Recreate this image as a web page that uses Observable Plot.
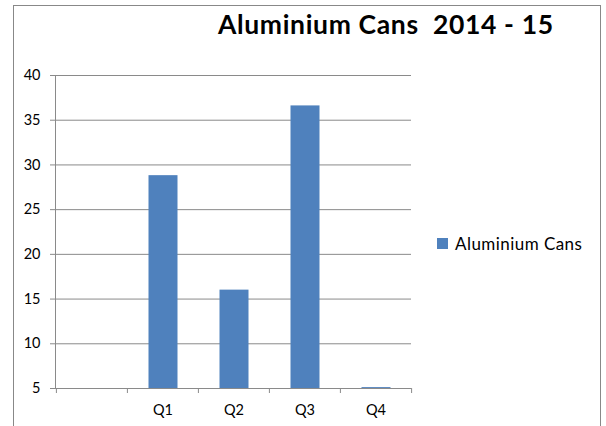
<!DOCTYPE html>
<html>
<head>
<meta charset="utf-8">
<script src="https://cdn.jsdelivr.net/npm/d3@7"></script>
<script src="https://cdn.jsdelivr.net/npm/@observablehq/plot@0.6"></script>
<style>
  body { margin: 0; background: #fff; }
  #wrap { position: relative; width: 606px; height: 426px; overflow: hidden; font-family: Lato, "Open Sans", sans-serif; }
  #border { position: absolute; left: 13px; top: 5px; width: 588px; height: 440px; border: 1px solid #888; box-sizing: border-box; }
  #title { position: absolute; left: 218px; top: 8px; font-size: 26.5px; letter-spacing: 0.65px; font-weight: bold; color: #000; white-space: pre; }
  #legend-sw { position: absolute; left: 437px; top: 238px; width: 11px; height: 11px; background: #4F81BD; }
  #legend-tx { position: absolute; left: 455px; top: 232.5px; font-size: 17px; letter-spacing: 0.45px; color: #000; white-space: pre; }
  #chart { position: absolute; left: 0; top: 0; }
</style>
</head>
<body>
<div id="wrap">
  <div id="border"></div>
  <div id="chart"></div>
  <div id="title">Aluminium Cans  2014 - 15</div>
  <div id="legend-sw"></div>
  <div id="legend-tx">Aluminium Cans</div>
</div>
<script>
const categories = ["", "Q1", "Q2", "Q3", "Q4"];
const values = [null, 28.8, 16, 36.6, 5.1];
const yTicks = [5, 10, 15, 20, 25, 30, 35, 40];
const seriesName = "Aluminium Cans";

const data = categories.map((c, i) => ({cat: c, value: values[i]})).filter(d => d.value != null);

const W = 606, H = 426;
const mL = 55, mR = 195, mT = 75, mB = 38;
const bw = (W - mL - mR) / categories.length;
const grid = "#8a8a8a";

const chart = Plot.plot({
  width: W,
  height: H,
  marginLeft: mL,
  marginRight: mR,
  marginTop: mT,
  marginBottom: mB,
  style: {fontFamily: "Lato, 'Open Sans', sans-serif", fontSize: "14.5px", color: "#000", background: "transparent"},
  x: {type: "band", domain: categories, padding: 0, label: null},
  y: {domain: [5, 40], label: null},
  marks: [
    Plot.ruleY(yTicks, {stroke: grid, strokeWidth: 1}),
    Plot.barY(data, {x: "cat", y1: 5, y2: "value", fill: "#4F81BD", insetLeft: 21.5, insetRight: 20.5}),
    Plot.ruleX(categories, {x: d => d, dx: -bw / 2, y1: 5, y2: 5, insetBottom: -5, stroke: grid}),
    Plot.ruleX(categories.slice(-1), {x: d => d, dx: bw / 2, y1: 5, y2: 5, insetBottom: -5, stroke: grid}),
    Plot.frame({anchor: "left", stroke: grid}),
    Plot.axisY(yTicks, {tickSize: 5, tickPadding: 10, stroke: grid, fill: "#000", label: null}),
    Plot.axisX({tickSize: 0, tickPadding: 16, fill: "#000", label: null})
  ]
});
document.getElementById("chart").appendChild(chart);
</script>
</body>
</html>
